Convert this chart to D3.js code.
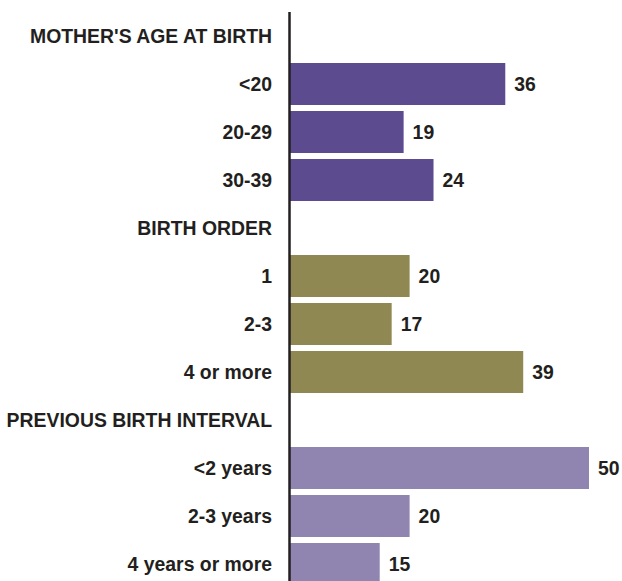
<!DOCTYPE html>
<html><head><meta charset="utf-8">
<script src="https://cdn.jsdelivr.net/npm/d3@7"></script>
<style>body{margin:0;background:#fff;} text{font-family:"Liberation Sans",Arial,sans-serif;font-weight:bold;fill:#231f20;}</style>
</head><body><svg id="c" width="622" height="581"></svg>
<script>
const rowLabels = ["MOTHER'S AGE AT BIRTH","<20","20-29","30-39","BIRTH ORDER","1","2-3","4 or more","PREVIOUS BIRTH INTERVAL","<2 years","2-3 years","4 years or more"];
const rowValues = [null,36,19,24,null,20,17,39,null,50,20,15];
const rowGroups = [0,0,0,0,1,1,1,1,2,2,2,2];
const groupColors = ["#5c4b8f","#8f8852","#9084b1"];

const svg = d3.select("#c");
const y = d3.scaleBand().domain(d3.range(rowLabels.length)).range([12,588]).paddingInner(0.125).paddingOuter(0.0625);
const x = d3.scaleLinear().domain([0,50]).range([290,589]);

const rows = rowLabels.map((l,i)=>({label:l,value:rowValues[i],group:rowGroups[i],i}));

svg.selectAll("rect.bar").data(rows.filter(d=>d.value!=null)).join("rect")
  .attr("class","bar")
  .attr("x",x(0)).attr("y",d=>y(d.i))
  .attr("width",d=>x(d.value)-x(0)).attr("height",y.bandwidth())
  .attr("fill",d=>groupColors[d.group]);

svg.selectAll("text.lab").data(rows).join("text")
  .attr("class","lab")
  .attr("x",272).attr("y",d=>y(d.i)+y.bandwidth()/2)
  .attr("dy","0.36em").attr("text-anchor","end")
  .style("font-size","19.4px")
  .text(d=>d.label);

svg.selectAll("text.val").data(rows.filter(d=>d.value!=null)).join("text")
  .attr("class","val")
  .attr("x",d=>x(d.value)+9).attr("y",d=>y(d.i)+y.bandwidth()/2)
  .attr("dy","0.36em")
  .style("font-size","19.4px")
  .text(d=>d.value);

svg.append("line").attr("x1",289.5).attr("x2",289.5).attr("y1",12).attr("y2",581)
  .attr("stroke","#231f20").attr("stroke-width",2.5);
</script></body></html>
